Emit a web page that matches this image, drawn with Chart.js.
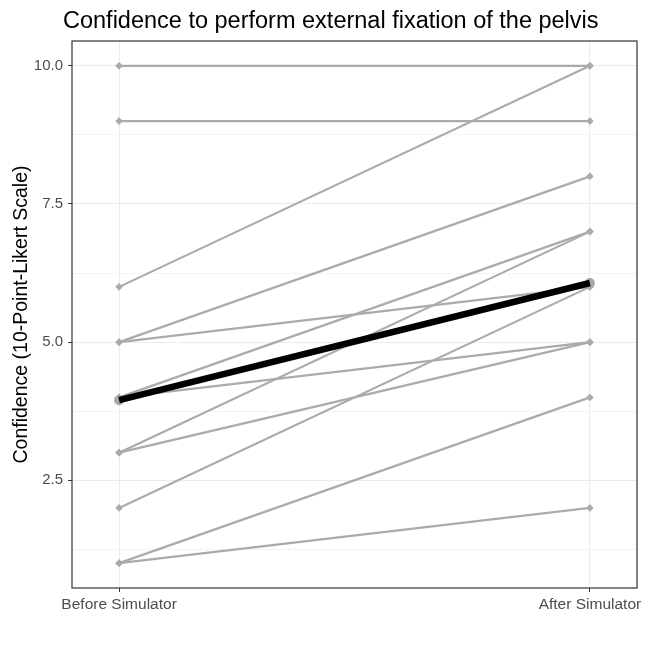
<!DOCTYPE html>
<html>
<head>
<meta charset="utf-8">
<script src="https://cdn.jsdelivr.net/npm/chart.js@4.4.1/dist/chart.umd.min.js"></script>
<style>
  html, body { margin: 0; padding: 0; background: #ffffff; }
  #wrap { width: 646px; height: 646px; }
</style>
</head>
<body>
<div id="wrap"><canvas id="grafica" width="646" height="646"></canvas></div>
<script>
// Datos
const categorias = ['Before Simulator', 'After Simulator'];
const antes = [10, 9, 6, 5, 5, 4, 4, 3, 3, 2, 1, 1];
const despues = [10, 9, 10, 8, 6, 7, 5, 7, 5, 6, 4, 2];
const media = [3.95, 6.07];
const ticksY = [1.25, 2.5, 3.75, 5, 6.25, 7.5, 8.75, 10];
const titulo = 'Confidence to perform external fixation of the pelvis';

const gris = '#ababab';
const fuente = '"Liberation Sans", Arial, sans-serif';

function esMayor(v) {
    return Math.abs(v / 2.5 - Math.round(v / 2.5)) < 1e-6;
}

// lineas de cada participante
const datasets = [];
for (let i = 0; i < antes.length; i++) {
    datasets.push({
        data: [{x: 0, y: antes[i]}, {x: 1, y: despues[i]}],
        borderColor: gris,
        backgroundColor: gris,
        borderWidth: 2.2,
        pointStyle: 'rectRot',
        pointRadius: 3.8,
        pointBorderWidth: 0,
        order: 3
    });
}
// puntos de la media (debajo de la linea negra)
datasets.push({
    data: media.map((v, i) => ({x: i, y: v})),
    showLine: false,
    backgroundColor: '#a8a8a8',
    pointRadius: 5,
    pointBorderWidth: 0,
    order: 2
});
// linea de la media
datasets.push({
    data: media.map((v, i) => ({x: i, y: v})),
    borderColor: '#000000',
    borderWidth: 6.5,
    pointRadius: 0,
    borderCapStyle: 'butt',
    order: 1
});

// borde del panel y titulo
const borde = {
    id: 'borde',
    afterDatasetsDraw(chart) {
        const a = chart.chartArea;
        const ctx = chart.ctx;
        ctx.save();
        ctx.strokeStyle = '#333333';
        ctx.lineWidth = 1.2;
        ctx.strokeRect(a.left, a.top, a.right - a.left, a.bottom - a.top);
        ctx.fillStyle = '#000000';
        ctx.font = '23.5px ' + fuente;
        ctx.textAlign = 'left';
        ctx.textBaseline = 'alphabetic';
        ctx.fillText(titulo, 63, 28);
        ctx.restore();
    }
};

const ctx = document.getElementById('grafica').getContext('2d');
new Chart(ctx, {
    type: 'line',
    data: { datasets: datasets },
    options: {
        responsive: false,
        animation: false,
        layout: { padding: { left: 0, right: 9, top: 41, bottom: 0 } },
        plugins: {
            legend: { display: false },
            tooltip: { enabled: false },
            title: { display: false }
        },
        scales: {
            x: {
                type: 'linear',
                min: -0.1,
                max: 1.1,
                afterBuildTicks: s => { s.ticks = [{value: 0}, {value: 1}]; },
                afterFit: s => { s.height = 58; },
                border: { display: false },
                grid: { color: '#ebebeb', lineWidth: 1, tickColor: '#333333', tickLength: 4 },
                ticks: {
                    color: '#4d4d4d',
                    padding: 3,
                    maxRotation: 0,
                    font: { family: fuente, size: 15.5 },
                    callback: v => categorias[v]
                }
            },
            y: {
                min: 0.55,
                max: 10.45,
                afterBuildTicks: s => { s.ticks = ticksY.map(v => ({value: v})); },
                afterFit: s => { s.width = 72; },
                border: { display: false },
                grid: {
                    color: c => esMayor(c.tick.value) ? '#ebebeb' : '#f3f3f3',
                    lineWidth: 1,
                    tickColor: c => esMayor(c.tick.value) ? '#333333' : 'rgba(0,0,0,0)',
                    tickLength: 4
                },
                title: {
                    display: true,
                    text: 'Confidence (10-Point-Likert Scale)',
                    color: '#000000',
                    font: { family: fuente, size: 19.5, lineHeight: 1.2 },
                    padding: { top: 10, bottom: 0 }
                },
                ticks: {
                    color: '#4d4d4d',
                    padding: 5,
                    font: { family: fuente, size: 15 },
                    callback: v => esMayor(v) ? v.toFixed(1) : ''
                }
            }
        }
    },
    plugins: [borde]
});
</script>
</body>
</html>
